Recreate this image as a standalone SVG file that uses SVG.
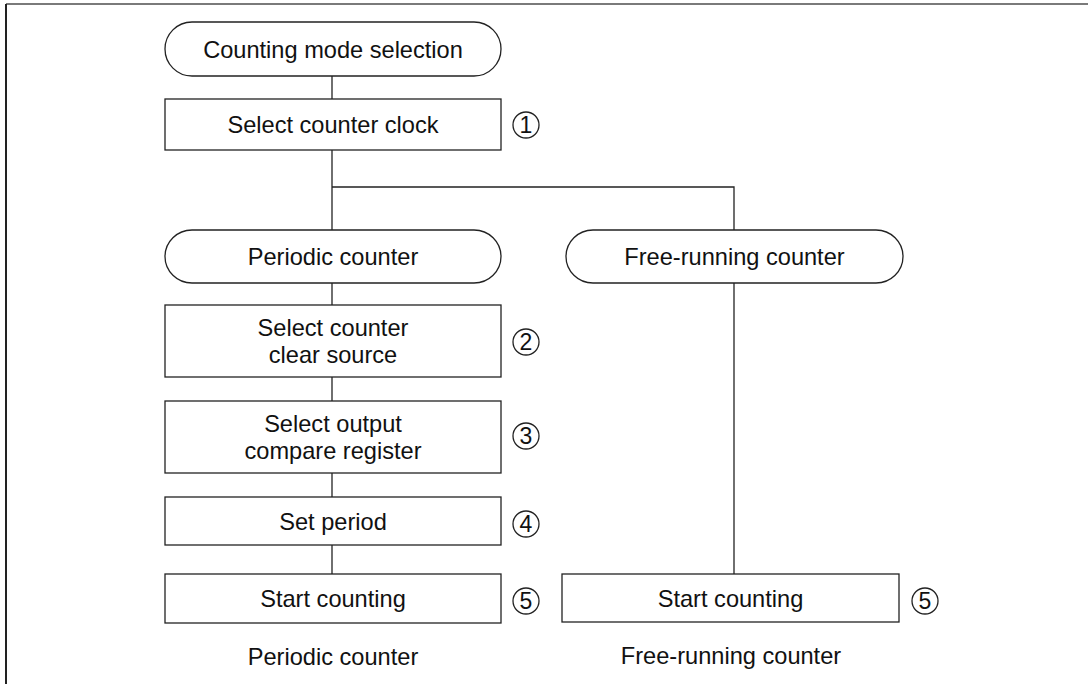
<svg xmlns="http://www.w3.org/2000/svg" width="1088" height="684" viewBox="0 0 1088 684">
<style>
.box{fill:#fff;stroke:#222;stroke-width:1.3}
.ln{fill:none;stroke:#222;stroke-width:1.3}
.t{font-family:"Liberation Sans",Arial,sans-serif;font-size:23.6px;fill:#111;text-anchor:middle}
.n{font-family:"Liberation Sans",Arial,sans-serif;font-size:23px;fill:#111;text-anchor:middle}
.c{fill:none;stroke:#222;stroke-width:1.3}
</style>
<rect width="1088" height="684" fill="#fff"/>
<g id="frame">
<line x1="6" y1="4" x2="1088" y2="4" stroke="#7a7a7a" stroke-width="2"/>
<line x1="6" y1="4" x2="6" y2="684" stroke="#222" stroke-width="2"/>
</g>
<g id="connectors">
<line class="ln" x1="332" y1="76" x2="332" y2="99"/>
<polyline class="ln" points="332,150 332,230"/>
<polyline class="ln" points="332,187 734,187 734,230"/>
<line class="ln" x1="332" y1="283" x2="332" y2="305"/>
<line class="ln" x1="332" y1="377" x2="332" y2="401"/>
<line class="ln" x1="332" y1="473" x2="332" y2="497"/>
<line class="ln" x1="332" y1="545" x2="332" y2="574"/>
<line class="ln" x1="734" y1="283" x2="734" y2="574"/>
</g>
<g id="n-start">
<rect class="box" x="165" y="22" width="336" height="54" rx="27" ry="27"/>
<text class="t" x="333" y="58">Counting mode selection</text>
</g>
<g id="n-clock">
<rect class="box" x="165" y="99" width="336" height="51"/>
<text class="t" x="333" y="133">Select counter clock</text>
<circle class="c" cx="526" cy="125" r="13"/>
<text class="n" x="526" y="133">1</text>
</g>
<g id="n-periodic">
<rect class="box" x="165" y="230" width="336" height="53" rx="27" ry="26.5"/>
<text class="t" x="333" y="265">Periodic counter</text>
</g>
<g id="n-free">
<rect class="box" x="566" y="230" width="337" height="53" rx="27" ry="26.5"/>
<text class="t" x="734.5" y="265">Free-running counter</text>
</g>
<g id="n-clear">
<rect class="box" x="165" y="305" width="336" height="72"/>
<text class="t" x="333" y="336">Select counter</text>
<text class="t" x="333" y="363">clear source</text>
<circle class="c" cx="526" cy="342" r="13"/>
<text class="n" x="526" y="350">2</text>
</g>
<g id="n-compare">
<rect class="box" x="165" y="401" width="336" height="72"/>
<text class="t" x="333" y="432">Select output</text>
<text class="t" x="333" y="459">compare register</text>
<circle class="c" cx="526" cy="436" r="13"/>
<text class="n" x="526" y="444">3</text>
</g>
<g id="n-period">
<rect class="box" x="165" y="497" width="336" height="48"/>
<text class="t" x="333" y="530">Set period</text>
<circle class="c" cx="526" cy="524" r="13"/>
<text class="n" x="526" y="532">4</text>
</g>
<g id="n-start-p">
<rect class="box" x="165" y="574" width="336" height="49"/>
<text class="t" x="333" y="607">Start counting</text>
<circle class="c" cx="526" cy="601" r="13"/>
<text class="n" x="526" y="609">5</text>
</g>
<g id="n-start-f">
<rect class="box" x="562" y="574" width="337" height="48"/>
<text class="t" x="730.5" y="607">Start counting</text>
<circle class="c" cx="925" cy="601" r="13"/>
<text class="n" x="925" y="609">5</text>
</g>
<g id="labels">
<text class="t" x="333" y="665">Periodic counter</text>
<text class="t" x="731" y="664">Free-running counter</text>
</g>
</svg>
